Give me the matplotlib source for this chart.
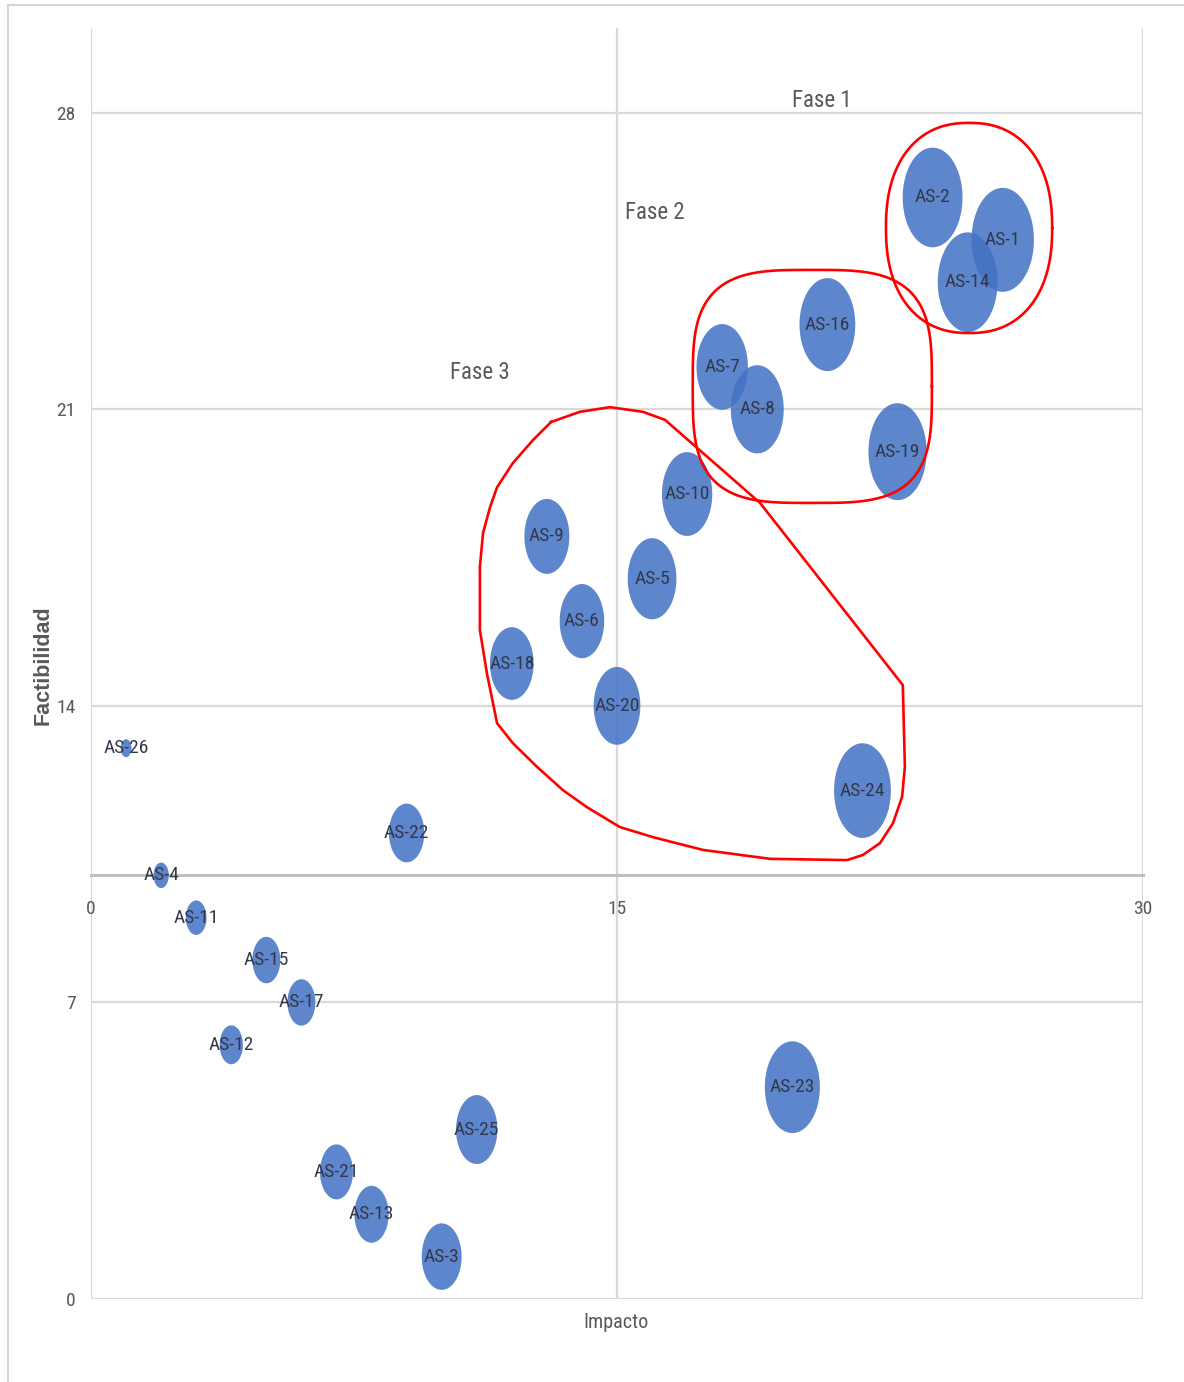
import numpy as np
import matplotlib
matplotlib.use("Agg")
import matplotlib.pyplot as plt
from matplotlib.path import Path
from matplotlib import font_manager as fm

# Datos de la matriz impacto / factibilidad
etiquetas = ["AS-1", "AS-2", "AS-3", "AS-4", "AS-5", "AS-6", "AS-7", "AS-8", "AS-9",
             "AS-10", "AS-11", "AS-12", "AS-13", "AS-14", "AS-15", "AS-16", "AS-17",
             "AS-18", "AS-19", "AS-20", "AS-21", "AS-22", "AS-23", "AS-24", "AS-25", "AS-26"]
impacto = [26, 24, 10, 2, 16, 14, 18, 19, 13, 17, 3, 4, 8, 25, 5, 21, 6, 12, 23, 15, 7, 9, 20, 22, 11, 1]
factibilidad = [25, 26, 1, 10, 17, 16, 22, 21, 18, 19, 9, 6, 2, 24, 8, 23, 7, 15, 20, 14, 3, 11, 5, 12, 4, 13]
peso = [100, 92, 41, 6, 61, 51, 68, 72, 52, 65, 11, 14, 30, 92, 20, 80, 20, 49, 87, 56, 28, 32, 78, 83, 44, 3]

xticks = [0, 15, 30]
yticks = [0, 7, 14, 21, 28]

# contornos de las fases (coordenadas de datos)
fase1 = dict(cx=25.04, cy=25.28, a=2.37, b=2.48, n=2.3)
fase2 = dict(cx=20.57, cy=21.54, a=3.41, b=2.75, n=3.4)
fase3_x = [13.12, 13.94, 14.80, 15.74, 16.37, 19.08, 23.15, 23.21, 23.13, 22.87, 22.50, 22.01,
           21.56, 19.36, 17.45, 16.03, 15.08, 14.14, 13.46, 12.72, 12.03, 11.58, 11.29, 11.09,
           11.09, 11.18, 11.38, 11.58, 12.03, 12.60, 13.12]
fase3_y = [20.70, 20.94, 21.05, 20.94, 20.75, 18.79, 14.49, 12.56, 11.85, 11.23, 10.76, 10.48,
           10.36, 10.39, 10.60, 10.90, 11.14, 11.61, 12.01, 12.56, 13.12, 13.59, 14.77, 15.79,
           17.28, 18.08, 18.69, 19.16, 19.73, 20.27, 20.70]

# buscar una fuente estrecha (parecida a Calibri comprimida)
preferidas = ["Liberation Sans Narrow", "Roboto Condensed", "DejaVu Sans Condensed",
              "Open Sans Condensed"]
angosta = None
for nombre in preferidas:
    for f in fm.fontManager.ttflist:
        if f.name == nombre and f.style == "normal" and f.weight in (400, "normal", "regular"):
            angosta = f.fname
            break
    if angosta:
        break
if angosta is None:
    for f in fm.fontManager.ttflist:
        if ("Narrow" in f.name or "Condensed" in f.name) and f.style == "normal":
            angosta = f.fname
            break
if angosta:
    fp = lambda size: fm.FontProperties(fname=angosta, size=size)
else:
    fp = lambda size: fm.FontProperties(family="Liberation Sans", size=size * 0.85)

fig = plt.figure(figsize=(11.84, 13.82), dpi=100)
ax = fig.add_axes([91 / 1184, 1 - 1299 / 1382, (1143 - 91) / 1184, (1299 - 28) / 1382])

# marcador elíptico (la imagen está estirada en vertical)
t = np.linspace(0, 2 * np.pi, 100)
elipse = Path(np.column_stack([0.6 * np.cos(t), np.sin(t)]), closed=True)

ax.scatter(impacto, factibilidad, s=np.array(peso) * 56, marker=elipse,
           color="#4472C4", alpha=0.86, linewidths=0, zorder=3)
for e, x, y in zip(etiquetas, impacto, factibilidad):
    ax.text(x, y, e, ha="center", va="center", fontproperties=fp(14),
            color="#323849", zorder=4)


def superelipse(cx, cy, a, b, n):
    tt = np.linspace(0, 2 * np.pi, 300)
    c, s = np.cos(tt), np.sin(tt)
    return (cx + a * np.sign(c) * np.abs(c) ** (2 / n),
            cy + b * np.sign(s) * np.abs(s) ** (2 / n))


for f in (fase1, fase2):
    px, py = superelipse(**f)
    ax.plot(px, py, color="#FF0000", lw=1.9, zorder=5)
ax.plot(fase3_x, fase3_y, color="#FF0000", lw=1.9, zorder=5, solid_joinstyle="round")

ax.text(20.84, 28.3, "Fase 1", ha="center", va="center", fontproperties=fp(16.5), color="#595959")
ax.text(16.08, 25.65, "Fase 2", ha="center", va="center", fontproperties=fp(16.5), color="#595959")
ax.text(11.09, 21.88, "Fase 3", ha="center", va="center", fontproperties=fp(16.5), color="#595959")

ax.set_xlim(0, 30)
ax.set_ylim(0, 30)
ax.set_xticks(xticks)
ax.set_yticks(yticks)
ax.grid(True, color="#D9D9D9", lw=1.6, zorder=0)
ax.set_axisbelow(True)
for lado in ("top", "right", "left"):
    ax.spines[lado].set_visible(False)
ax.spines["bottom"].set_position(("data", 10))
ax.spines["bottom"].set_color("#BFBFBF")
ax.spines["bottom"].set_linewidth(2.2)
ax.tick_params(length=0, labelcolor="#595959")
ax.tick_params(axis="x", pad=18)
ax.tick_params(axis="y", pad=11)
for lbl in ax.get_xticklabels() + ax.get_yticklabels():
    lbl.set_fontproperties(fp(14))

fig.text(616 / 1184, 1 - 1323 / 1382, "Impacto", ha="center", va="center",
         fontproperties=fp(14.5), color="#595959")
fig.text(43 / 1184, 1 - 665 / 1382, "Factibilidad", ha="center", va="center", rotation=90,
         fontsize=15.5, family="Liberation Sans", weight="bold", color="#595959")

# borde de la imagen
fig.add_artist(plt.Line2D([8 / 1184, 1], [1 - 5 / 1382] * 2, color="#D3D7DC", lw=1.5))
fig.add_artist(plt.Line2D([8 / 1184] * 2, [0, 1 - 5 / 1382], color="#D3D7DC", lw=1.5))

fig.savefig("out.png", dpi=100)
